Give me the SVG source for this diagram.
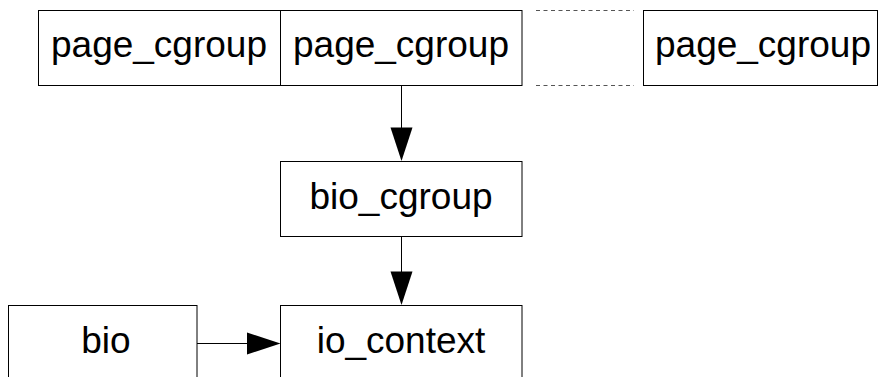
<svg xmlns="http://www.w3.org/2000/svg" width="878" height="377" viewBox="0 0 878 377">
<style>
.box{fill:#fff;stroke:#000;stroke-width:1}
.lbl{font-family:"Liberation Sans",Arial,sans-serif;font-size:37px;fill:#000;text-anchor:middle}
.con{stroke:#000;stroke-width:1;fill:none}
.dash{stroke:#555;stroke-width:1;stroke-dasharray:4 3.5;fill:none}
.head{fill:#000;stroke:none}
</style>
<rect width="878" height="377" fill="#fff"/>
<g id="page_cgroup_1">
<rect class="box" x="38.5" y="10.5" width="242" height="75"/>
<text class="lbl" x="159" y="57">page_cgroup</text>
</g>
<g id="page_cgroup_2">
<rect class="box" x="280.5" y="10.5" width="241.5" height="75"/>
<text class="lbl" x="401" y="57">page_cgroup</text>
</g>
<g id="page_cgroup_3">
<rect class="box" x="643.5" y="10.5" width="234" height="75"/>
<text class="lbl" x="763" y="57">page_cgroup</text>
</g>
<g id="ellipsis">
<line class="dash" x1="536" y1="10.5" x2="634" y2="10.5"/>
<line class="dash" x1="536" y1="85.5" x2="634" y2="85.5"/>
</g>
<g id="bio_cgroup">
<rect class="box" x="280.5" y="161.5" width="241.5" height="75"/>
<text class="lbl" x="401" y="208.5">bio_cgroup</text>
</g>
<g id="io_context">
<rect class="box" x="280.5" y="305.5" width="241.5" height="76"/>
<text class="lbl" x="401" y="352.5">io_context</text>
</g>
<g id="bio">
<rect class="box" x="8.5" y="305.5" width="188.5" height="76"/>
<text class="lbl" x="106" y="352.5">bio</text>
</g>
<g id="connectors">
<line class="con" x1="401.5" y1="85.5" x2="401.5" y2="128"/>
<polygon class="head" points="390.5,127.5 412.5,127.5 401.5,161"/>
<line class="con" x1="401.5" y1="236.5" x2="401.5" y2="272"/>
<polygon class="head" points="390.5,271.5 412.5,271.5 401.5,305"/>
<line class="con" x1="197" y1="343.5" x2="248" y2="343.5"/>
<polygon class="head" points="247,332.5 247,354.5 280.5,343.5"/>
</g>
</svg>
